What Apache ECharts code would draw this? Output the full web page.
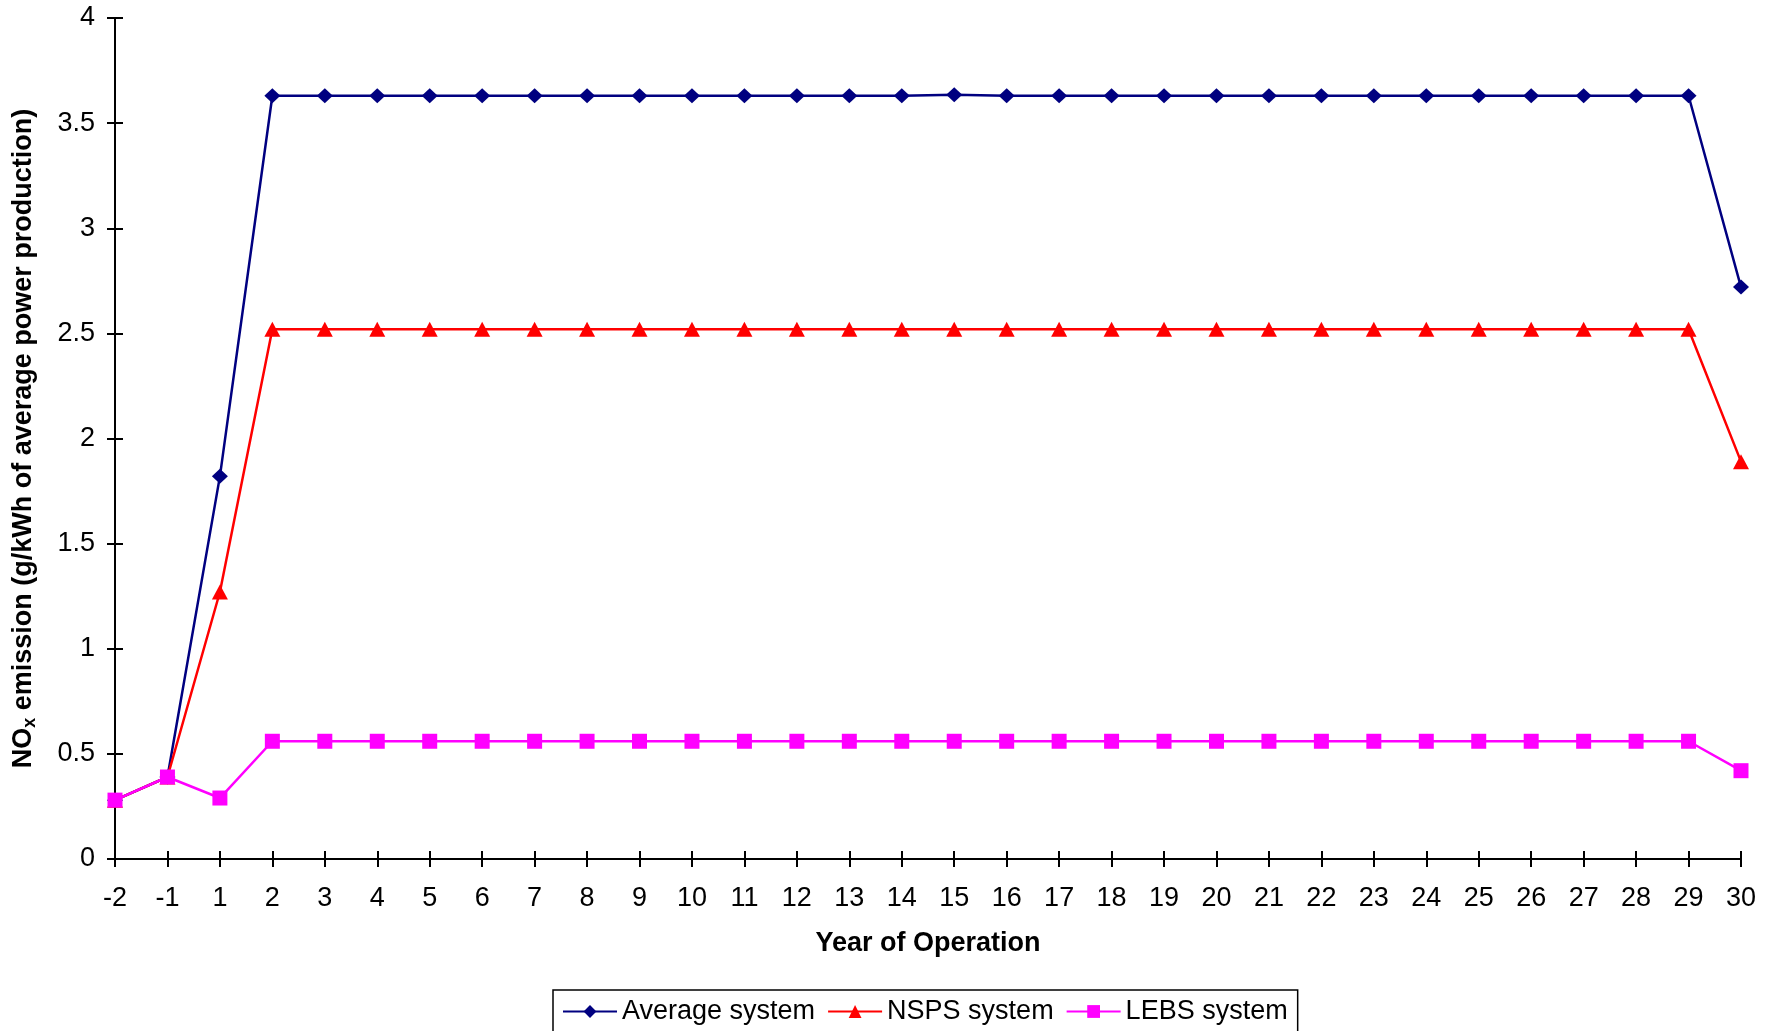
<!DOCTYPE html>
<html>
<head>
<meta charset="utf-8">
<script src="https://cdn.jsdelivr.net/npm/echarts@6/dist/echarts.min.js"></script>
<style>html,body{margin:0;padding:0;background:#fff;}#c{width:1778px;height:1031px;}</style>
</head>
<body>
<div id="c"></div>
<script>
const years = ['-2','-1','1','2','3','4','5','6','7','8','9','10','11','12','13','14','15','16','17','18','19','20','21','22','23','24','25','26','27','28','29','30'];
const averageSystem = [0.28,0.39,1.82,3.63,3.63,3.63,3.63,3.63,3.63,3.63,3.63,3.63,3.63,3.63,3.63,3.63,3.635,3.63,3.63,3.63,3.63,3.63,3.63,3.63,3.63,3.63,3.63,3.63,3.63,3.63,3.63,2.72];
const nspsSystem = [0.28,0.39,1.27,2.52,2.52,2.52,2.52,2.52,2.52,2.52,2.52,2.52,2.52,2.52,2.52,2.52,2.52,2.52,2.52,2.52,2.52,2.52,2.52,2.52,2.52,2.52,2.52,2.52,2.52,2.52,2.52,1.89];
const lebsSystem = [0.28,0.39,0.29,0.56,0.56,0.56,0.56,0.56,0.56,0.56,0.56,0.56,0.56,0.56,0.56,0.56,0.56,0.56,0.56,0.56,0.56,0.56,0.56,0.56,0.56,0.56,0.56,0.56,0.56,0.56,0.56,0.42];
const seriesNames = ['Average system','NSPS system','LEBS system'];

const FONT = '"Liberation Sans", Arial, sans-serif';
const FS = 27;
const chart = echarts.init(document.getElementById('c'), null, {renderer:'canvas'});
const lineStyleAxis = {color:'#000', width:2};
chart.setOption({
  animation:false,
  backgroundColor:'#fff',
  textStyle:{fontFamily:FONT, color:'#000'},
  grid:{left:115, right:37, top:18, bottom:172, containLabel:false},
  legend:{
    data:seriesNames,
    left:553, top:990,
    itemWidth:54, itemHeight:16, itemGap:12,
    borderColor:'#000', borderWidth:1.5, padding:[8,10,8,9],
    textStyle:{fontFamily:FONT, fontSize:FS, color:'#000'},
    itemStyle:{borderWidth:0}
  },
  xAxis:[{
    type:'category', data:years, boundaryGap:false,
    axisLine:{lineStyle:lineStyleAxis},
    axisTick:{show:true, length:8, inside:false, lineStyle:lineStyleAxis, alignWithLabel:true},
    axisLabel:{fontFamily:FONT, fontSize:FS, color:'#000', margin:26, interval:0},
    splitLine:{show:false},
    name:'Year of Operation', nameLocation:'middle', nameGap:71,
    nameTextStyle:{fontFamily:FONT, fontSize:FS, fontWeight:'bold', color:'#000'}
  },{
    type:'category', data:years, boundaryGap:false, position:'bottom',
    axisLine:{show:false},
    axisTick:{show:true, length:8, inside:true, lineStyle:lineStyleAxis},
    axisLabel:{show:false}, splitLine:{show:false}
  }],
  yAxis:[{
    type:'value', min:0, max:4, interval:0.5,
    axisLine:{show:true, lineStyle:lineStyleAxis},
    axisTick:{show:true, length:8, inside:false, lineStyle:lineStyleAxis},
    axisLabel:{fontFamily:FONT, fontSize:FS, color:'#000', margin:20},
    splitLine:{show:false},
    name:'{a|NO}{s|x}{a| emission (g/kWh of average power production)}',
    nameLocation:'middle', nameGap:76, nameRotate:90,
    nameTextStyle:{rich:{
      a:{fontFamily:FONT, fontSize:FS, fontWeight:'bold', color:'#000'},
      s:{fontFamily:FONT, fontSize:18, fontWeight:'bold', color:'#000', verticalAlign:'bottom', padding:[12,0,0,0]}
    }}
  },{
    type:'value', min:0, max:4, interval:0.5, position:'left',
    axisLine:{show:false},
    axisTick:{show:true, length:8, inside:true, lineStyle:lineStyleAxis},
    axisLabel:{show:false}, splitLine:{show:false}
  }],
  series:[
    {name:seriesNames[0], type:'line', data:averageSystem, symbol:'diamond', symbolSize:[16,15],
     itemStyle:{color:'#000080'}, lineStyle:{color:'#000080', width:2.5}},
    {name:seriesNames[1], type:'line', data:nspsSystem, symbol:'triangle', symbolSize:[16,15],
     itemStyle:{color:'#FF0000'}, lineStyle:{color:'#FF0000', width:2.5}},
    {name:seriesNames[2], type:'line', data:lebsSystem, symbol:'rect', symbolSize:15,
     itemStyle:{color:'#FF00FF'}, lineStyle:{color:'#FF00FF', width:2.5}}
  ]
});
</script>
</body>
</html>
